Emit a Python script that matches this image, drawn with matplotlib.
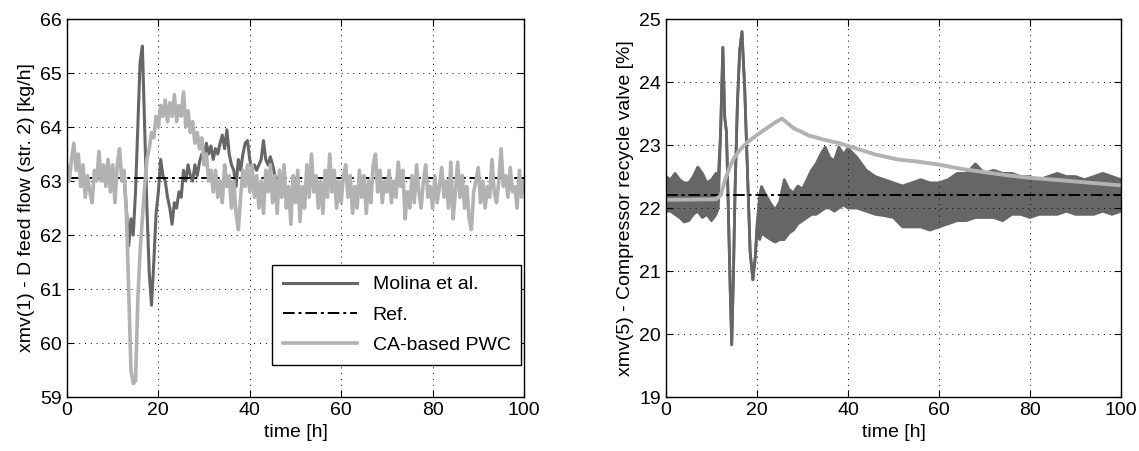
import numpy as np
import matplotlib
matplotlib.use("Agg")
import matplotlib.pyplot as plt

plt.rcParams['font.family'] = ['Liberation Sans', 'DejaVu Sans']

# ---- left panel: xmv(1) ----
dt = 0.5
ca_left = [  # CA-based PWC, every 0.5 h from t=0
    63.3, 63.0, 63.4, 63.7, 63.2, 63.5, 62.9, 63.3, 62.7, 63.1,
    62.8, 62.6, 63.2, 63.0, 63.55, 63.0, 63.3, 62.9, 63.4, 62.8,
    63.3, 62.6, 63.3, 63.6, 63.0, 63.2, 62.4, 61.0, 59.5, 59.25,
    59.3, 60.8, 61.7, 62.3, 62.9, 63.4, 63.6, 63.9, 63.8, 64.2,
    64.0, 64.4, 64.2, 64.5, 64.1, 64.45, 64.2, 64.6, 64.1, 64.4,
    64.2, 64.65, 64.0, 64.3, 63.9, 64.1, 63.7, 63.9, 63.6, 63.8,
    63.3, 63.5, 63.0, 63.2, 62.8, 63.2, 62.7, 63.0, 62.6, 63.3,
    62.9, 63.1, 62.5, 63.0, 62.4, 62.1, 62.7, 63.2, 62.9, 63.3,
    62.8, 63.3, 62.7, 63.1, 62.5, 63.0, 62.4, 63.2, 62.8, 63.3,
    62.6, 63.1, 62.4, 63.2, 62.7, 63.3, 62.5, 62.9, 62.2, 63.1,
    62.6, 63.2, 62.25, 62.9, 62.5, 63.3, 62.7, 63.5, 62.8, 63.1,
    62.5, 63.0, 62.4, 63.2, 62.7, 63.5, 62.8, 63.2, 62.5, 63.0,
    62.6, 63.1, 63.3, 62.7, 63.1, 62.4, 62.9, 62.5, 63.2, 62.7,
    63.1, 62.4, 63.0, 62.6, 63.3, 63.5, 62.8, 63.2, 62.6, 63.0,
    62.8, 63.2, 62.6, 63.0, 62.7, 63.35, 62.9, 63.2, 62.3, 62.8,
    62.5, 63.1, 62.6, 63.3, 62.8, 62.5, 63.0, 63.3, 62.7, 62.9,
    62.5, 63.1, 62.6, 62.9, 63.25, 62.7, 63.0, 62.5, 63.35, 62.3,
    62.8, 63.35, 62.7, 63.1, 62.5, 62.9, 62.3, 62.1, 62.8, 63.0,
    63.25, 62.6, 63.0, 62.5, 62.9, 62.7, 63.4, 62.8, 62.6, 63.0,
    63.6, 62.9, 63.1, 62.7, 63.25, 62.8, 62.9, 62.5, 63.2, 62.7,
    63.0,
]
molina_left_start = 12.0
molina_left = [  # Molina et al., every 0.5 h from t=12 (hidden under CA elsewhere)
    63.1, 63.05, 62.5, 61.8, 62.3, 62.0, 62.8, 64.0, 65.2, 65.5,
    64.0, 62.5, 61.3, 60.7, 61.5, 62.4, 62.8, 63.4, 63.1, 63.0,
    62.7, 62.5, 62.2, 62.6, 62.5, 62.8, 62.7, 63.2, 63.0, 63.3,
    63.1, 63.0, 63.3, 63.1, 63.35, 63.5, 63.4, 63.7, 63.5, 63.65,
    63.4, 63.6, 63.5, 63.7, 63.85, 63.6, 63.95, 63.5, 63.3, 63.2,
    62.9, 63.4, 63.2, 63.5, 63.7, 63.75, 63.4, 63.2, 63.3, 63.2,
    63.3, 63.4, 63.75, 63.4, 63.3, 63.45, 63.3, 63.1, 63.0,
]
ref_left = 63.05

# ---- right panel: xmv(5) ----
t_ca_right = [0, 11, 12, 13, 14, 15, 16, 17, 18, 20, 22, 24, 25.5, 28, 31.5,
              35, 38, 42.5, 46, 51, 55, 60, 65, 70, 75, 80, 87, 95, 100]
ca_right = [22.13, 22.14, 22.2, 22.45, 22.65, 22.8, 22.9, 22.98, 23.05, 23.16,
            23.26, 23.36, 23.42, 23.27, 23.15, 23.08, 23.03, 22.93, 22.85, 22.77,
            22.74, 22.69, 22.62, 22.57, 22.52, 22.48, 22.44, 22.39, 22.36]

# Molina et al. is a dense noisy band: upper / lower envelope
t_mol_right = [0, 1, 2, 3, 4, 5, 6, 7, 8, 9, 10, 11, 11.5,
               12.0, 12.5, 12.9, 13.3, 13.7, 14.1, 14.45, 14.8, 15.2, 15.7,
               16.2, 16.7, 17.3, 17.9, 18.5, 19.1, 19.6, 20.1, 20.6,
               21, 22, 23, 24, 25, 26, 27, 28, 29, 30, 31, 32, 33, 34, 35, 36, 37, 38, 39, 40,
               42, 44, 46, 48, 50, 52, 54, 56, 58, 60, 62, 64, 66, 68, 70,
               72, 74, 76, 78, 80, 82, 84, 86, 88, 90, 92, 94, 96, 98, 100]
mol_right_hi = [22.5, 22.45, 22.55, 22.45, 22.4, 22.4, 22.5, 22.65, 22.55, 22.4, 22.45, 22.55, 22.5,
                23.2, 24.55, 23.45, 23.2, 22.0, 20.75, 19.83, 20.86, 22.34, 23.66,
                24.5, 24.8, 23.9, 22.6, 21.3, 20.86, 21.2, 21.8, 22.2,
                22.34, 22.2, 22.07, 21.97, 22.1, 22.45, 22.3, 22.24, 22.35, 22.3, 22.45, 22.6, 22.7, 22.85, 22.97,
                22.8, 22.75, 22.97, 22.85, 22.95,
                22.8, 22.6, 22.5, 22.45, 22.4, 22.35, 22.4, 22.45, 22.4, 22.4, 22.45, 22.55, 22.55, 22.7, 22.55,
                22.6, 22.55, 22.55, 22.5, 22.5, 22.45, 22.5, 22.55, 22.5, 22.5, 22.45, 22.5, 22.55, 22.5, 22.45]
mol_right_lo = [21.95, 21.95, 21.9, 21.85, 21.78, 21.8, 21.9, 21.95, 21.85, 21.9, 21.8, 21.9, 22.0,
                23.2, 24.55, 23.45, 23.2, 22.0, 20.75, 19.83, 20.86, 22.34, 23.66,
                24.5, 24.8, 23.9, 22.6, 21.3, 20.86, 21.2, 21.8, 21.5,
                21.6, 21.55, 21.5, 21.46, 21.5, 21.5, 21.6, 21.65, 21.75, 21.8, 21.85, 21.9, 21.9, 21.95, 22.0,
                22.0, 21.95, 22.0, 22.05, 22.0,
                22.0, 21.95, 21.9, 21.88, 21.85, 21.7, 21.7, 21.7, 21.65, 21.7, 21.75, 21.8, 21.8, 21.85, 21.85,
                21.85, 21.8, 21.9, 21.9, 21.85, 21.9, 21.9, 21.9, 21.95, 21.9, 21.9, 21.9, 21.95, 21.9, 21.95]
ref_right = 22.2

dark = '#666666'
light = '#b2b2b2'
ref_style = (0, (6, 2, 1.5, 2))
fs = 14

fig = plt.figure(figsize=(11.39, 4.51), dpi=100)
ax1 = fig.add_axes([0.0588, 0.1197, 0.4012, 0.838])
ax2 = fig.add_axes([0.5847, 0.1197, 0.3995, 0.838])

t_ca_left = np.arange(len(ca_left)) * dt
t_mol_left = molina_left_start + np.arange(len(molina_left)) * dt

ax1.plot(t_mol_left, molina_left, color=dark, lw=2.2, label='Molina et al.')
ax1.plot([0, 100], [ref_left, ref_left], color='k', lw=1.4, linestyle=ref_style, label='Ref.')
ax1.plot(t_ca_left, ca_left, color=light, lw=2.6, label='CA-based PWC')
ax1.set_ylim(59, 66)
ax1.set_yticks(range(59, 67))
ax1.set_ylabel('xmv(1) - D feed flow (str. 2) [kg/h]', fontsize=fs)

ax2.fill_between(t_mol_right, mol_right_lo, mol_right_hi, color=dark, lw=0)
ax2.plot(t_mol_right, mol_right_hi, color=dark, lw=2.0)
ax2.plot(t_mol_right, mol_right_lo, color=dark, lw=2.0)
ax2.plot([0, 100], [ref_right, ref_right], color='k', lw=1.4, linestyle=ref_style)
ax2.plot(t_ca_right, ca_right, color=light, lw=2.8)
ax2.set_ylim(19, 25)
ax2.set_yticks(range(19, 26))
ax2.set_ylabel('xmv(5) - Compressor recycle valve [%]', fontsize=fs)

for ax in (ax1, ax2):
    ax.set_xlim(0, 100)
    ax.set_xticks(range(0, 101, 20))
    ax.set_xlabel('time [h]', fontsize=fs)
    ax.grid(True, color='k', linestyle=(0, (1, 5)), lw=0.7)
    ax.tick_params(direction='in', top=True, right=True, labelsize=fs, length=5)
    for s in ax.spines.values():
        s.set_linewidth(1.0)

leg = ax1.legend(loc='lower right', bbox_to_anchor=(0.994, 0.085), borderaxespad=0,
                 fontsize=fs, handlelength=3.8, fancybox=False, framealpha=1,
                 edgecolor='k', labelspacing=0.66, borderpad=0.55)
leg.get_frame().set_linewidth(1.0)

fig.savefig('out.png', dpi=100)
